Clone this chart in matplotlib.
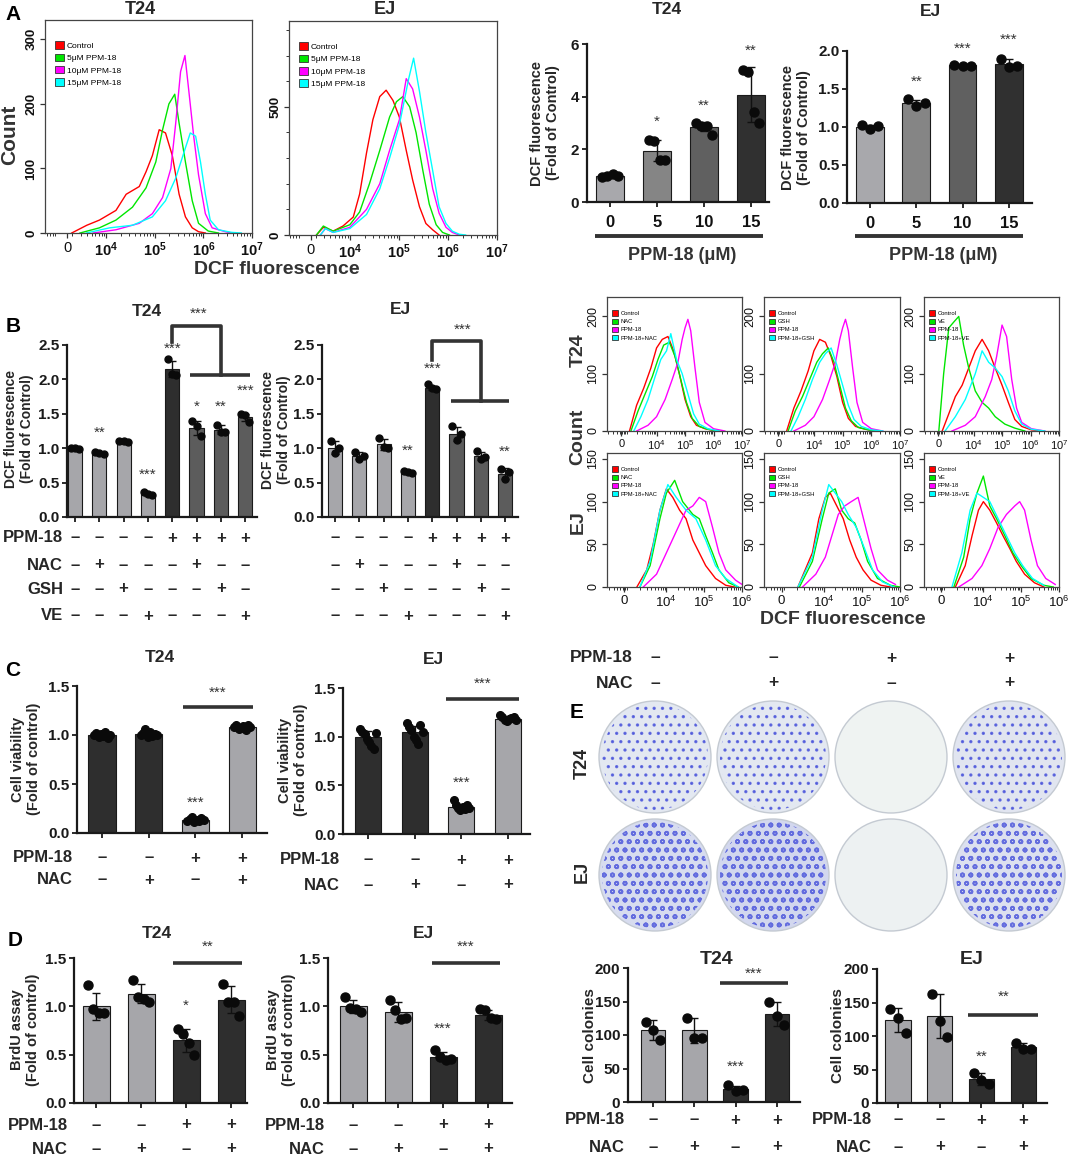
import numpy as np
import matplotlib
matplotlib.use('Agg')
import matplotlib.pyplot as plt
from matplotlib.patches import Patch, Circle
from matplotlib.lines import Line2D
import matplotlib.transforms as mtransforms

plt.rcParams['font.family'] = ['Liberation Sans', 'DejaVu Sans']
plt.rcParams['mathtext.fontset'] = 'custom'
plt.rcParams['mathtext.rm'] = 'Liberation Sans'
plt.rcParams['mathtext.bf'] = 'Liberation Sans:bold'
plt.rcParams['hatch.linewidth'] = 1.2

# ---------------------------------------------------------------- DATA
# Panel A flow histograms (x in decades of DCF fluorescence, y = count)
A_T24_ctrl_x = [3.29, 3.6, 3.86, 4.2, 4.41, 4.68, 4.82, 4.95, 5.09, 5.22, 5.36, 5.5, 5.63, 5.77, 5.9, 6.04]
A_T24_ctrl_y = [0, 12, 20, 35, 60, 72, 95, 120, 160, 155, 120, 60, 25, 8, 2, 0]
A_T24_5_x = [3.46, 3.86, 4.2, 4.54, 4.82, 5.02, 5.16, 5.29, 5.41, 5.5, 5.63, 5.77, 5.9, 6.1, 6.31]
A_T24_5_y = [0, 8, 20, 40, 70, 110, 160, 200, 215, 170, 110, 50, 15, 3, 0]
A_T24_10_x = [3.73, 4.2, 4.68, 4.95, 5.16, 5.33, 5.43, 5.53, 5.62, 5.7, 5.8, 5.9, 6.04, 6.18, 6.45, 6.58]
A_T24_10_y = [0, 5, 15, 30, 55, 100, 170, 250, 275, 220, 150, 90, 30, 8, 2, 0]
A_T24_15_x = [3.59, 4.07, 4.54, 4.95, 5.22, 5.43, 5.6, 5.73, 5.84, 5.94, 6.04, 6.14, 6.31, 6.58, 6.78]
A_T24_15_y = [0, 8, 12, 25, 50, 85, 125, 155, 150, 110, 60, 20, 5, 1, 0]

A_EJ_ctrl_x = [3.32, 3.46, 3.66, 3.86, 4.07, 4.2, 4.34, 4.47, 4.61, 4.74, 4.88, 5.01, 5.15, 5.28, 5.42, 5.55, 5.69, 5.82]
A_EJ_ctrl_y = [0, 30, 15, 35, 70, 160, 320, 450, 540, 565, 525, 460, 330, 215, 110, 45, 20, 0]
A_EJ_5_x = [3.32, 3.46, 3.66, 4.0, 4.2, 4.4, 4.61, 4.81, 4.95, 5.08, 5.22, 5.35, 5.49, 5.62, 5.76, 5.89, 6.03]
A_EJ_5_y = [0, 35, 15, 40, 90, 200, 330, 460, 520, 540, 500, 400, 250, 120, 40, 10, 0]
A_EJ_10_x = [3.4, 3.5, 3.66, 4.0, 4.34, 4.61, 4.81, 5.01, 5.15, 5.28, 5.42, 5.55, 5.69, 5.82, 5.96, 6.09, 6.23]
A_EJ_10_y = [0, 25, 10, 30, 100, 200, 330, 450, 610, 570, 460, 330, 180, 85, 30, 10, 0]
A_EJ_15_x = [3.4, 3.5, 3.66, 4.0, 4.34, 4.61, 4.81, 5.01, 5.2, 5.3, 5.42, 5.55, 5.69, 5.82, 5.96, 6.09, 6.23, 6.36]
A_EJ_15_y = [0, 25, 10, 25, 80, 180, 300, 430, 610, 690, 560, 400, 250, 110, 45, 15, 3, 0]
A_labels = ['Control', '5μM PPM-18', '10μM PPM-18', '15μM PPM-18']

# Panel B flow grid
B_flow_T24_NAC = {
    'Control': ([3.05, 3.3, 3.55, 3.8, 4.0, 4.2, 4.4, 4.6, 4.8, 5.0, 5.2, 5.4, 5.7, 6.1],
                [0, 45, 75, 110, 145, 160, 165, 140, 100, 55, 25, 10, 4, 0]),
    'NAC': ([3.1, 3.35, 3.6, 3.85, 4.05, 4.25, 4.45, 4.65, 4.85, 5.05, 5.25, 5.5, 5.8, 6.2],
            [0, 35, 65, 95, 125, 150, 155, 130, 90, 50, 22, 8, 3, 0]),
    'PPM-18': ([3.3, 3.7, 4.0, 4.3, 4.55, 4.75, 4.9, 5.0, 5.1, 5.2, 5.35, 5.5, 5.7, 6.0, 6.4],
               [0, 10, 25, 55, 90, 120, 160, 180, 195, 175, 110, 50, 15, 4, 0]),
    'PPM-18+NAC': ([3.2, 3.45, 3.7, 3.95, 4.15, 4.35, 4.5, 4.7, 4.9, 5.1, 5.3, 5.5, 5.8, 6.2],
                   [0, 25, 55, 95, 125, 140, 170, 125, 100, 65, 30, 12, 4, 0]),
}
B_flow_T24_GSH = {
    'Control': ([3.05, 3.3, 3.55, 3.8, 4.0, 4.2, 4.4, 4.6, 4.8, 5.0, 5.2, 5.45, 5.8, 6.2],
                [0, 40, 70, 105, 140, 160, 155, 130, 95, 50, 22, 8, 3, 0]),
    'GSH': ([3.1, 3.35, 3.6, 3.85, 4.1, 4.3, 4.5, 4.7, 4.9, 5.1, 5.3, 5.55, 5.9, 6.3],
            [0, 35, 60, 90, 120, 135, 145, 120, 80, 40, 18, 6, 2, 0]),
    'PPM-18': ([3.3, 3.7, 4.0, 4.3, 4.55, 4.75, 4.9, 5.0, 5.1, 5.2, 5.35, 5.5, 5.7, 6.0, 6.4],
               [0, 10, 25, 55, 90, 120, 160, 180, 195, 175, 110, 50, 15, 4, 0]),
    'PPM-18+GSH': ([3.2, 3.45, 3.7, 3.95, 4.2, 4.4, 4.6, 4.8, 5.0, 5.2, 5.4, 5.65, 6.0, 6.4],
                   [0, 25, 55, 90, 120, 135, 145, 115, 80, 45, 20, 8, 2, 0]),
}
B_flow_T24_VE = {
    'Control': ([2.9, 3.13, 3.36, 3.6, 3.83, 4.06, 4.3, 4.53, 4.76, 5.0, 5.22, 5.45, 5.69, 6.03, 6.38],
                [0, 30, 60, 80, 110, 140, 160, 140, 110, 80, 50, 20, 8, 2, 0]),
    'VE': ([2.78, 2.95, 3.13, 3.3, 3.48, 3.65, 3.83, 4.06, 4.3, 4.53, 4.76, 5.1, 5.45, 5.8],
           [0, 100, 180, 190, 200, 150, 110, 70, 50, 40, 25, 12, 5, 0]),
    'PPM-18': ([3.24, 3.71, 4.06, 4.41, 4.64, 4.81, 5.0, 5.16, 5.34, 5.51, 5.69, 6.03, 6.5],
               [0, 10, 25, 60, 90, 130, 185, 165, 90, 40, 15, 4, 0]),
    'PPM-18+VE': ([3.0, 3.36, 3.71, 4.06, 4.3, 4.53, 4.76, 5.0, 5.22, 5.45, 5.69, 6.03, 6.5],
                  [0, 25, 55, 100, 140, 120, 110, 95, 70, 35, 12, 3, 0]),
}
B_flow_EJ_NAC = {
    'Control': ([3.22, 3.48, 3.65, 3.83, 4.0, 4.17, 4.35, 4.52, 4.7, 4.87, 5.04, 5.3, 5.57, 5.8],
                [0, 20, 50, 90, 115, 105, 90, 80, 55, 40, 25, 10, 2, 0]),
    'NAC': ([3.3, 3.57, 3.83, 4.0, 4.22, 4.43, 4.7, 4.87, 5.04, 5.22, 5.39, 5.65, 5.9],
            [0, 25, 80, 110, 125, 100, 85, 80, 60, 40, 20, 5, 0]),
    'PPM-18': ([3.39, 3.74, 4.0, 4.26, 4.52, 4.7, 4.87, 5.04, 5.22, 5.39, 5.57, 5.83, 6.0],
               [0, 15, 40, 65, 90, 95, 105, 100, 70, 40, 20, 8, 3]),
    'PPM-18+NAC': ([3.3, 3.57, 3.83, 4.04, 4.26, 4.52, 4.78, 5.04, 5.3, 5.57, 5.9],
                   [0, 30, 90, 120, 105, 90, 80, 55, 25, 10, 0]),
}
B_flow_EJ_GSH = {
    'Control': ([3.32, 3.7, 3.87, 4.04, 4.17, 4.34, 4.51, 4.68, 4.85, 5.03, 5.24, 5.5, 5.75],
                [0, 40, 80, 105, 110, 95, 80, 55, 35, 20, 8, 2, 0]),
    'GSH': ([3.36, 3.7, 3.96, 4.13, 4.3, 4.47, 4.64, 4.81, 4.98, 5.15, 5.41, 5.75, 6.0],
            [0, 30, 80, 110, 115, 90, 80, 75, 55, 30, 10, 2, 0]),
    'PPM-18': ([3.44, 3.79, 4.04, 4.21, 4.38, 4.55, 4.72, 4.9, 5.07, 5.24, 5.41, 5.67, 5.88],
               [0, 15, 35, 60, 85, 95, 100, 105, 75, 45, 20, 8, 3]),
    'PPM-18+GSH': ([3.32, 3.7, 3.96, 4.13, 4.3, 4.47, 4.64, 4.85, 5.07, 5.28, 5.54, 5.84],
                   [0, 35, 90, 120, 110, 100, 85, 70, 45, 20, 6, 0]),
}
B_flow_EJ_VE = {
    'Control': ([3.26, 3.52, 3.7, 3.87, 4.0, 4.17, 4.35, 4.52, 4.7, 4.87, 5.09, 5.35, 5.6],
                [0, 25, 60, 90, 100, 90, 75, 60, 45, 30, 15, 5, 0]),
    'VE': ([3.22, 3.48, 3.65, 3.83, 4.0, 4.17, 4.35, 4.57, 4.78, 5.0, 5.26, 5.6, 5.85],
           [0, 35, 80, 110, 130, 95, 80, 60, 40, 25, 10, 2, 0]),
    'PPM-18': ([3.35, 3.7, 3.96, 4.17, 4.39, 4.61, 4.83, 4.96, 5.09, 5.26, 5.43, 5.65, 5.9],
               [0, 10, 25, 45, 70, 85, 95, 100, 90, 55, 25, 10, 3]),
    'PPM-18+VE': ([3.17, 3.43, 3.65, 3.83, 4.0, 4.17, 4.39, 4.61, 4.83, 5.04, 5.3, 5.6],
                  [0, 40, 90, 110, 105, 100, 80, 60, 40, 25, 10, 2]),
}

# Panel A bars
A_doses = ['0', '5', '10', '15']
A_T24_mean = [1.0, 1.95, 2.85, 4.08]
A_T24_sd = [0.05, 0.4, 0.17, 1.05]
A_T24_pts = [[0.95, 1.0, 1.05, 1.0], [2.35, 2.3, 1.6, 1.58], [3.0, 2.9, 2.87, 2.55], [5.0, 4.95, 3.4, 3.0]]
A_T24_stars = ['', '*', '**', '**']
A_T24_star_y = [0, 3.05, 3.65, 5.75]
A_EJ_mean = [1.0, 1.31, 1.81, 1.83]
A_EJ_sd = [0.03, 0.04, 0.01, 0.06]
A_EJ_pts = [[1.03, 0.97, 1.01], [1.37, 1.28, 1.32], [1.81, 1.80, 1.80], [1.9, 1.79, 1.8]]
A_EJ_stars = ['', '**', '***', '***']
A_EJ_star_y = [0, 1.6, 2.03, 2.15]

# Panel B bars
B_rows = {'PPM-18': ['–', '–', '–', '–', '+', '+', '+', '+'],
          'NAC':    ['–', '+', '–', '–', '–', '+', '–', '–'],
          'GSH':    ['–', '–', '+', '–', '–', '–', '+', '–'],
          'VE':     ['–', '–', '–', '+', '–', '–', '–', '+']}
B_T24_mean = [1.0, 0.93, 1.1, 0.33, 2.15, 1.29, 1.27, 1.45]
B_T24_sd = [0.01, 0.01, 0.01, 0.02, 0.12, 0.1, 0.06, 0.05]
B_T24_pts = [[1.01, 1.0, 0.99], [0.94, 0.93, 0.92], [1.11, 1.1, 1.09], [0.36, 0.33, 0.32],
             [2.3, 2.08, 2.07], [1.39, 1.32, 1.18], [1.34, 1.24, 1.24], [1.5, 1.48, 1.38]]
B_T24_stars = ['', '**', '', '***', '***', '*', '**', '***']
B_T24_star_y = [0, 1.22, 0, 0.62, 2.44, 1.6, 1.6, 1.83]
B_EJ_mean = [1.01, 0.89, 1.06, 0.65, 1.88, 1.21, 0.89, 0.63]
B_EJ_sd = [0.09, 0.05, 0.08, 0.02, 0.03, 0.1, 0.06, 0.08]
B_EJ_pts = [[1.1, 0.93, 1.01], [0.95, 0.85, 0.88], [1.15, 1.02, 1.01], [0.67, 0.65, 0.64],
            [1.93, 1.87, 1.86], [1.32, 1.12, 1.2], [0.96, 0.85, 0.87], [0.7, 0.55, 0.66]]
B_EJ_stars = ['', '', '', '**', '***', '', '', '**']
B_EJ_star_y = [0, 0, 0, 0.96, 2.16, 0, 0, 0.95]

# Panels C-E
CDE_rows = {'PPM-18': ['–', '–', '+', '+'], 'NAC': ['–', '+', '–', '+']}
C_T24_mean = [1.0, 1.01, 0.13, 1.08]
C_T24_sd = [0.02, 0.03, 0.02, 0.02]
C_T24_pts = [[1.0, 1.02, 0.98, 1.01, 0.99, 1.03, 0.97, 1.0], [1.0, 1.02, 1.06, 0.98, 1.03, 0.99, 1.01, 1.0],
             [0.12, 0.14, 0.16, 0.11, 0.13, 0.12, 0.15, 0.13], [1.08, 1.1, 1.06, 1.07, 1.09, 1.05, 1.1, 1.08]]
C_T24_stars = ['', '', '***', '']
C_T24_star_y = [0, 0, 0.31, 0]
C_EJ_mean = [1.0, 1.05, 0.28, 1.18]
C_EJ_sd = [0.06, 0.06, 0.03, 0.02]
C_EJ_pts = [[1.08, 1.05, 1.03, 0.98, 0.95, 0.9, 0.87, 1.04], [1.14, 1.1, 1.07, 1.0, 0.97, 0.92, 1.12, 1.05],
            [0.35, 0.3, 0.27, 0.25, 0.28, 0.26, 0.3, 0.27], [1.22, 1.2, 1.17, 1.16, 1.18, 1.19, 1.2, 1.17]]
C_EJ_stars = ['', '', '***', '']
C_EJ_star_y = [0, 0, 0.53, 0]

D_T24_mean = [1.0, 1.13, 0.65, 1.07]
D_T24_sd = [0.14, 0.1, 0.12, 0.14]
D_T24_pts = [[1.22, 0.97, 0.93, 0.93], [1.27, 1.1, 1.08, 1.04], [0.77, 0.71, 0.62, 0.5], [1.23, 1.05, 1.05, 0.9]]
D_T24_stars = ['', '', '*', '']
D_T24_star_y = [0, 0, 1.01, 0]
D_EJ_mean = [1.0, 0.94, 0.48, 0.91]
D_EJ_sd = [0.07, 0.1, 0.05, 0.05]
D_EJ_pts = [[1.1, 0.98, 0.97, 0.94], [1.07, 0.96, 0.87, 0.88], [0.55, 0.48, 0.45, 0.46], [0.97, 0.96, 0.88, 0.87]]
D_EJ_stars = ['', '', '***', '']
D_EJ_star_y = [0, 0, 0.77, 0]

E_T24_mean = [107, 107, 19, 132]
E_T24_sd = [15, 19, 5, 18]
E_T24_pts = [[120, 107, 92], [126, 95, 95], [25, 16, 18], [150, 128, 115]]
E_T24_stars = ['', '', '***', '']
E_T24_star_y = [0, 0, 53, 0]
E_EJ_mean = [124, 130, 36, 83]
E_EJ_sd = [18, 33, 9, 6]
E_EJ_pts = [[140, 127, 104], [163, 123, 98], [45, 35, 28], [90, 80, 80]]
E_EJ_stars = ['', '', '**', '']
E_EJ_star_y = [0, 0, 69, 0]

# Colony plates: relative stained coverage
plate_cover = {'T24': [0.25, 0.25, 0.02, 0.3], 'EJ': [0.5, 0.6, 0.05, 0.4]}

# ---------------------------------------------------------------- LAYOUT
W, H = 1072, 1159
fig = plt.figure(figsize=(W / 100, H / 100), dpi=100)
TXT = '#262626'
LIGHT = '#a6a6aa'
DARK = '#2e2e2e'
MID = '#5c5c5c'
FLOW_COLORS = ['#ff0000', '#00e600', '#ff00ff', '#00ffff']


def ax_px(x0, y0, x1, y1):
    return fig.add_axes([x0 / W, 1 - y1 / H, (x1 - x0) / W, (y1 - y0) / H])


def ftext(x, y, s, **kw):
    kw.setdefault('color', TXT)
    return fig.text(x / W, 1 - y / H, s, **kw)


def fline(x0, x1, y, lw=2.5):
    fig.add_artist(Line2D([x0 / W, x1 / W], [1 - y / H, 1 - y / H], transform=fig.transFigure,
                          color='#333333', lw=lw, solid_capstyle='butt'))


def flow_panel(rect, curves, labels, xlim, ylim, yticks, ytl, yminor, xticks, xtl,
               leg_fs, tick_fs, bold, leg_anchor, xtick_fs=None):
    ax = ax_px(*rect)
    for (xs, ys), c in zip(curves, FLOW_COLORS):
        ax.plot(xs, ys, color=c, lw=1.0)
    ax.set_xlim(*xlim)
    ax.set_ylim(*ylim)
    ax.set_yticks(yticks)
    ax.set_yticklabels(ytl, rotation=90, va='center', fontsize=tick_fs,
                       fontweight='bold' if bold else 'normal')
    if yminor:
        ax.set_yticks(yminor, minor=True)
    ax.set_xticks(xticks)
    ax.set_xticklabels(xtl, fontsize=xtick_fs if xtick_fs else tick_fs + 1)
    minors = [d + np.log10(k) for d in range(2, 7) for k in range(2, 10)]
    ax.set_xticks([m for m in minors if xlim[0] < m < xlim[1]], minor=True)
    ax.tick_params(axis='both', which='major', direction='out', length=3.5, width=0.9, pad=2,
                   colors='#333333', labelcolor='#111111')
    ax.tick_params(axis='both', which='minor', direction='out', length=2, width=0.7, colors='#333333')
    for sp in ax.spines.values():
        sp.set_linewidth(0.9)
        sp.set_color('#444444')
    handles = [Patch(facecolor=c, edgecolor='#333333', linewidth=0.6) for c in FLOW_COLORS]
    ax.legend(handles, labels, loc='upper left', bbox_to_anchor=leg_anchor, fontsize=leg_fs,
              frameon=False, handlelength=1.0, handleheight=1.0, handletextpad=0.4,
              labelspacing=0.45, borderaxespad=0, borderpad=0)
    return ax


def bar_panel(rect, b0, sp, means, sds, pts, colors, width, ylim, yticks, ytl,
              stars, star_y, ms=5.5, star_fs=11, tick_fs=11):
    x0, y0, x1, y1 = rect
    ax = ax_px(*rect)
    n = len(means)
    pos = np.arange(n)
    ax.set_xlim((x0 - b0) / sp, (x1 - b0) / sp)
    ax.set_ylim(*ylim)
    ax.bar(pos, means, width, color=colors, edgecolor='#1a1a1a', linewidth=0.8, zorder=2)
    ax.errorbar(pos, means, yerr=sds, fmt='none', ecolor='#111111', elinewidth=1.0,
                capsize=3, capthick=1.0, zorder=3)
    for i, p in enumerate(pts):
        offs = np.linspace(-width * 0.3, width * 0.3, len(p))
        ax.plot(i + offs, p, 'o', color='#0a0a0a', ms=ms, zorder=4, clip_on=False)
    for i, (s, y) in enumerate(zip(stars, star_y)):
        if s:
            ax.text(i, y, s, ha='center', va='center', fontsize=star_fs, color='#333333')
    ax.set_yticks(yticks)
    ax.set_yticklabels(ytl, fontsize=tick_fs, fontweight='bold', color='#111111')
    ax.set_xticks(pos)
    ax.set_xticklabels([])
    for s in ['top', 'right']:
        ax.spines[s].set_visible(False)
    for s in ['left', 'bottom']:
        ax.spines[s].set_linewidth(1.6)
        ax.spines[s].set_color('#1a1a1a')
    ax.tick_params(axis='both', direction='out', length=3.5, width=1.3, colors='#1a1a1a', pad=2)
    ax.patch.set_alpha(0)
    return ax


def sig_line(ax, x0, x1, y, text, ty, tx=None):
    ax.plot([x0, x1], [y, y], color='#333333', lw=2.6, clip_on=False, solid_capstyle='butt')
    ax.text((x0 + x1) / 2 if tx is None else tx, ty, text, ha='center', va='center',
            fontsize=11, color='#333333', clip_on=False)


def sign_rows(ax, rows, ys, label_right=None, fs=12):
    tr = mtransforms.blended_transform_factory(ax.transData, fig.transFigure)
    for (name, signs), ypx in zip(rows.items(), ys):
        for i, s in enumerate(signs):
            ax.text(i, 1 - ypx / H, s, transform=tr, ha='center', va='center', fontsize=fs,
                    fontweight='bold', color=TXT)
        if label_right is not None:
            ftext(label_right, ypx, name, ha='right', va='center', fontsize=fs, fontweight='bold')


def ylabel2(x, y, s, fs):
    ftext(x, y, s, rotation=90, ha='center', va='center', fontsize=fs, fontweight='bold',
          multialignment='center', linespacing=1.15)


# ---------------------------------------------------------------- colony plates
pax = fig.add_axes([0, 0, 1, 1])
pax.set_xlim(0, W)
pax.set_ylim(H, 0)
pax.axis('off')
pale = np.array([0.94, 0.955, 0.95])
blue = np.array([0.29, 0.33, 0.86])
for r, line in enumerate(['T24', 'EJ']):
    for c, cov in enumerate(plate_cover[line]):
        cx, cy = 655 + 118 * c, 757 + 118 * r
        col = pale * (1 - cov * 0.3) + blue * cov * 0.3
        pax.add_patch(Circle((cx, cy), 56, facecolor=col, edgecolor='#c4cad2', lw=1.0))
        if cov > 0.1:
            pax.add_patch(Circle((cx, cy), 53, facecolor='none',
                                 edgecolor=tuple(blue) + (0.8,), lw=0,
                                 hatch='oo' if line == 'EJ' else '..'))

# ---------------------------------------------------------------- Panel A flow
flow_panel((45, 20, 252, 233),
           [(A_T24_ctrl_x, A_T24_ctrl_y), (A_T24_5_x, A_T24_5_y), (A_T24_10_x, A_T24_10_y),
            (A_T24_15_x, A_T24_15_y)], A_labels, (2.74, 7.0), (0, 330),
           [0, 100, 200, 300], ['0', '100', '200', '300'], None,
           [3.2, 4, 5, 6, 7], ['0', r'$\mathbf{10^4}$', r'$\mathbf{10^5}$', r'$\mathbf{10^6}$', r'$\mathbf{10^7}$'],
           6, 9.5, True, (0.05, 0.9))
flow_panel((289, 21, 497, 235),
           [(A_EJ_ctrl_x, A_EJ_ctrl_y), (A_EJ_5_x, A_EJ_5_y), (A_EJ_10_x, A_EJ_10_y),
            (A_EJ_15_x, A_EJ_15_y)], A_labels, (2.76, 7.0), (0, 835),
           [0, 500], ['0', '500'], [100, 200, 300, 400, 600, 700, 800],
           [3.2, 4, 5, 6, 7], ['0', r'$\mathbf{10^4}$', r'$\mathbf{10^5}$', r'$\mathbf{10^6}$', r'$\mathbf{10^7}$'],
           6, 9.5, True, (0.05, 0.9))
ftext(140, 10, 'T24', ha='center', va='center', fontsize=13, fontweight='bold')
ftext(385, 10, 'EJ', ha='center', va='center', fontsize=13, fontweight='bold')
ftext(10, 135, 'Count', rotation=90, ha='center', va='center', fontsize=15, fontweight='bold', color='#333333')
ftext(277, 270, 'DCF fluorescence', ha='center', va='center', fontsize=14, fontweight='bold', color='#333333')

# ---------------------------------------------------------------- Panel A bars
A_cols = ['#a8a8ac', '#858585', '#606060', '#303030']
ax = bar_panel((587, 44, 769, 202), 610, 47, A_T24_mean, A_T24_sd, A_T24_pts, A_cols, 0.58,
               (0, 6), [0, 2, 4, 6], ['0', '2', '4', '6'], A_T24_stars, A_T24_star_y, ms=6.5)
ax.set_xticklabels(A_doses, fontsize=12, fontweight='bold', color='#111111')
ax.tick_params(axis='x', pad=6)
ax = bar_panel((847, 51, 1032, 203), 870, 46.3, A_EJ_mean, A_EJ_sd, A_EJ_pts, A_cols, 0.6,
               (0, 2.0), [0, 0.5, 1.0, 1.5, 2.0], ['0.0', '0.5', '1.0', '1.5', '2.0'],
               A_EJ_stars, A_EJ_star_y, ms=6.5)
ax.set_xticklabels(A_doses, fontsize=12, fontweight='bold', color='#111111')
ax.tick_params(axis='x', pad=6)
fline(595, 763, 236, lw=2.8)
fline(855, 1023, 236, lw=2.8)
ftext(682, 255, 'PPM-18 (μM)', ha='center', va='center', fontsize=13, fontweight='bold', color='#333333')
ftext(943, 255, 'PPM-18 (μM)', ha='center', va='center', fontsize=13, fontweight='bold', color='#333333')
ftext(667, 10, 'T24', ha='center', va='center', fontsize=12.5, fontweight='bold')
ftext(930, 12, 'EJ', ha='center', va='center', fontsize=12.5, fontweight='bold')
ylabel2(545, 123, 'DCF fluorescence\n(Fold of Control)', 10.5)
ylabel2(796, 128, 'DCF fluorescence\n(Fold of Control)', 10.5)

# ---------------------------------------------------------------- Panel B bars
B_cols = [LIGHT] * 4 + [DARK] + [MID] * 3
ax = bar_panel((67, 345, 257, 517), 75, 24.3, B_T24_mean, B_T24_sd, B_T24_pts, B_cols, 0.58,
               (0, 2.5), [0, 0.5, 1.0, 1.5, 2.0, 2.5], ['0.0', '0.5', '1.0', '1.5', '2.0', '2.5'],
               B_T24_stars, B_T24_star_y, ms=5)
ax.plot([4, 4, 6, 6], [2.55, 2.77, 2.77, 2.07], color='#333333', lw=2.6, clip_on=False)
sig_line(ax, 4.73, 7.2, 2.07, '***', 2.96, tx=5.07)
sign_rows(ax, B_rows, [538, 565, 589, 616], label_right=63)
ax = bar_panel((322, 345, 518, 517), 335, 24.3, B_EJ_mean, B_EJ_sd, B_EJ_pts, B_cols, 0.58,
               (0, 2.5), [0, 0.5, 1.0, 1.5, 2.0, 2.5], ['0.0', '0.5', '1.0', '1.5', '2.0', '2.5'],
               B_EJ_stars, B_EJ_star_y, ms=5)
ax.plot([4, 4, 6, 6], [2.28, 2.56, 2.56, 1.69], color='#333333', lw=2.6, clip_on=False)
sig_line(ax, 4.76, 7.17, 1.69, '***', 2.72, tx=5.27)
sign_rows(ax, B_rows, [538, 565, 589, 616])
ftext(147, 311, 'T24', ha='center', va='center', fontsize=12.5, fontweight='bold')
ftext(400, 310, 'EJ', ha='center', va='center', fontsize=12.5, fontweight='bold')
ylabel2(19, 429, 'DCF fluorescence\n(Fold of Control)', 10)
ylabel2(276, 430, 'DCF fluorescence\n(Fold of Control)', 10)

# ---------------------------------------------------------------- Panel B flow grid
cols_x = [(607, 742), (764, 900), (924, 1059)]
row1 = [B_flow_T24_NAC, B_flow_T24_GSH, B_flow_T24_VE]
row2 = [B_flow_EJ_NAC, B_flow_EJ_GSH, B_flow_EJ_VE]
for (xa, xb), d in zip(cols_x, row1):
    flow_panel((xa, 297, xb, 431), list(d.values()), list(d.keys()), (2.26, 7.0), (0, 234),
               [0, 100, 200], ['0', '100', '200'], None,
               [2.76, 4, 5, 6, 7], ['0', r'$10^4$', r'$10^5$', r'$10^6$', r'$10^7$'],
               4.2, 9, False, (0.04, 0.9), xtick_fs=8)
for (xa, xb), d in zip(cols_x, row2):
    flow_panel((xa, 453, xb, 587), list(d.values()), list(d.keys()), (2.43, 6.0), (0, 157),
               [0, 50, 100, 150], ['0', '50', '100', '150'], None,
               [2.89, 4, 5, 6], ['0', r'$10^4$', r'$10^5$', r'$10^6$'],
               4.2, 9, False, (0.04, 0.9), xtick_fs=9.5)
ftext(578, 350, 'T24', rotation=90, ha='center', va='center', fontsize=14, fontweight='bold', color='#333333')
ftext(578, 437, 'Count', rotation=90, ha='center', va='center', fontsize=14, fontweight='bold', color='#333333')
ftext(578, 522, 'EJ', rotation=90, ha='center', va='center', fontsize=14, fontweight='bold', color='#333333')
ftext(843, 620, 'DCF fluorescence', ha='center', va='center', fontsize=14, fontweight='bold', color='#333333')

# ---------------------------------------------------------------- Panel C
C_cols = [DARK, DARK, LIGHT, LIGHT]
yt15 = [0, 0.5, 1.0, 1.5]
ytl15 = ['0.0', '0.5', '1.0', '1.5']
ax = bar_panel((77, 686, 267, 833), 102, 46.7, C_T24_mean, C_T24_sd, C_T24_pts, C_cols, 0.58,
               (0, 1.5), yt15, ytl15, C_T24_stars, C_T24_star_y, ms=5.5)
sig_line(ax, 1.73, 3.23, 1.29, '***', 1.43)
sign_rows(ax, CDE_rows, [858, 880], label_right=73)
ax = bar_panel((343, 688, 530, 834), 368, 46.7, C_EJ_mean, C_EJ_sd, C_EJ_pts, C_cols, 0.56,
               (0, 1.5), yt15, ytl15, C_EJ_stars, C_EJ_star_y, ms=5.5)
sig_line(ax, 1.67, 3.23, 1.39, '***', 1.54)
sign_rows(ax, CDE_rows, [860, 885], label_right=340)
ftext(160, 658, 'T24', ha='center', va='center', fontsize=12.5, fontweight='bold')
ftext(433, 660, 'EJ', ha='center', va='center', fontsize=12.5, fontweight='bold')
ylabel2(26, 759, 'Cell viability\n(Fold of control)', 10.5)
ylabel2(293, 760, 'Cell viability\n(Fold of control)', 10.5)

# ---------------------------------------------------------------- Panel D
D_cols = [LIGHT, LIGHT, DARK, DARK]
ax = bar_panel((74, 958, 247, 1103), 96, 45, D_T24_mean, D_T24_sd, D_T24_pts, D_cols, 0.6,
               (0, 1.5), yt15, ytl15, D_T24_stars, D_T24_star_y, ms=6.5)
sig_line(ax, 1.71, 3.24, 1.45, '**', 1.62)
sign_rows(ax, CDE_rows, [1125, 1149], label_right=68)
ax = bar_panel((328, 958, 512, 1103), 353, 45, D_EJ_mean, D_EJ_sd, D_EJ_pts, D_cols, 0.6,
               (0, 1.5), yt15, ytl15, D_EJ_stars, D_EJ_star_y, ms=6.5)
sig_line(ax, 1.75, 3.27, 1.45, '***', 1.62)
sign_rows(ax, CDE_rows, [1125, 1149], label_right=325)
ftext(157, 933, 'T24', ha='center', va='center', fontsize=12.5, fontweight='bold')
ftext(423, 933, 'EJ', ha='center', va='center', fontsize=12.5, fontweight='bold')
ylabel2(25, 1030, 'BrdU assay\n(Fold of control)', 10.5)
ylabel2(281, 1030, 'BrdU assay\n(Fold of control)', 10.5)

# ---------------------------------------------------------------- Panel E bars
E_cols = [LIGHT, LIGHT, DARK, DARK]
ax = bar_panel((628, 968, 800, 1102), 653, 41.3, E_T24_mean, E_T24_sd, E_T24_pts, E_cols, 0.6,
               (0, 200), [0, 50, 100, 150, 200], ['0', '50', '100', '150', '200'],
               E_T24_stars, E_T24_star_y, ms=6.5)
sig_line(ax, 1.62, 3.27, 177, '***', 192)
sign_rows(ax, CDE_rows, [1120, 1147], label_right=625)
ax = bar_panel((877, 969, 1047, 1103), 898, 41.7, E_EJ_mean, E_EJ_sd, E_EJ_pts, E_cols, 0.6,
               (0, 200), [0, 50, 100, 150, 200], ['0', '50', '100', '150', '200'],
               E_EJ_stars, E_EJ_star_y, ms=6.5)
sig_line(ax, 1.69, 3.36, 132, '**', 158)
sign_rows(ax, CDE_rows, [1120, 1147], label_right=872)
ftext(717, 960, 'T24', ha='center', va='center', fontsize=14, fontweight='bold')
ftext(972, 960, 'EJ', ha='center', va='center', fontsize=14, fontweight='bold')
ftext(590, 1036, 'Cell colonies', rotation=90, ha='center', va='center', fontsize=11, fontweight='bold')
ftext(838, 1036, 'Cell colonies', rotation=90, ha='center', va='center', fontsize=11, fontweight='bold')

# E plate header
for r, (name, signs) in enumerate(CDE_rows.items()):
    y = 658 + 25 * r
    ftext(633, y, name, ha='right', va='center', fontsize=12.5, fontweight='bold')
    for c, s in enumerate(signs):
        ftext(655 + 118 * c, y, s, ha='center', va='center', fontsize=12.5, fontweight='bold')
ftext(582, 763, 'T24', rotation=90, ha='center', va='center', fontsize=13, fontweight='bold')
ftext(582, 872, 'EJ', rotation=90, ha='center', va='center', fontsize=13, fontweight='bold')

# panel letters
for L, (x, y) in {'A': (13, 14), 'B': (13, 327), 'C': (13, 670), 'D': (15, 940), 'E': (577, 712)}.items():
    ftext(x, y, L, ha='center', va='center', fontsize=15, fontweight='bold', color='#000000')

fig.savefig('out.png', dpi=100)
